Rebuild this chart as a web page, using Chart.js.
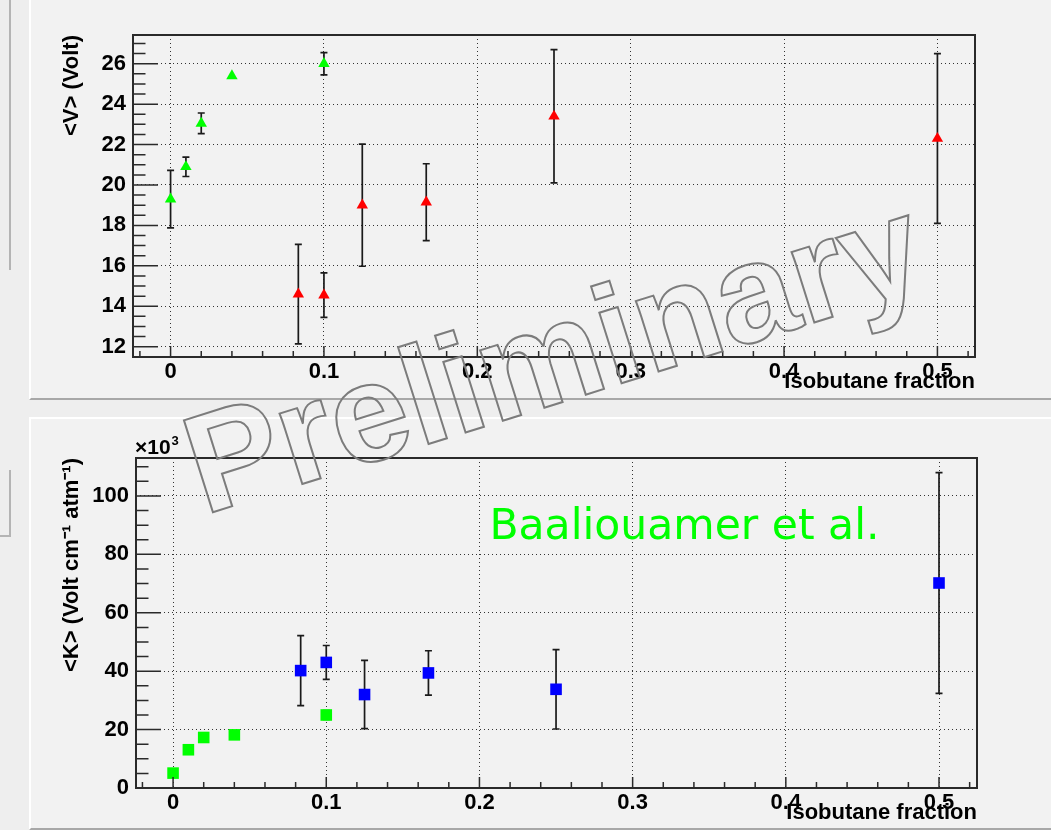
<!DOCTYPE html>
<html>
<head>
<meta charset="utf-8">
<script src="https://cdn.jsdelivr.net/npm/chart.js@4.4.1/dist/chart.umd.min.js"></script>
<style>
  body { margin: 0; width: 1051px; height: 830px; background: #eeeeee; position: relative; overflow: hidden; }
  .pad { position: absolute; left: 29px; width: 1022px; background: #f2f2f2; }
  #padTop { top: 0; height: 398px; border-left: 2px solid #fff; border-bottom: 2px solid #a8a8a8; }
  #padBot { top: 417px; height: 409px; border-left: 2px solid #fff; border-top: 2px solid #fff; border-bottom: 2px solid #a8a8a8; }
  .edge { position: absolute; background: #b4b4b4; }
  canvas { position: absolute; }
  #wm { left: 0; top: 0; pointer-events: none; }
</style>
</head>
<body>
<div class="edge" style="left:9px;top:0;width:2px;height:270px"></div>
<div class="edge" style="left:9px;top:470px;width:2px;height:67px"></div>
<div class="edge" style="left:0;top:535px;width:11px;height:2px"></div>
<div class="pad" id="padTop"></div>
<div class="pad" id="padBot"></div>
<canvas id="chartV" width="1020" height="400" style="left:31px;top:0"></canvas>
<canvas id="chartK" width="1020" height="412" style="left:31px;top:418px"></canvas>
<canvas id="wm" width="1051" height="830"></canvas>
<script>
// isobutane fraction tick labels
const xTicks = [0, 0.1, 0.2, 0.3, 0.4, 0.5];
const vTicks = [12, 14, 16, 18, 20, 22, 24, 26];
const kTicks = [0, 20, 40, 60, 80, 100];

// <V> (Volt)
const vGreenX = [0, 0.01, 0.02, 0.04, 0.1];
const vGreenY = [19.3, 20.9, 23.05, 25.4, 26.0];
const vGreenErr = [1.42, 0.48, 0.51, 0, 0.55];
const vRedX = [0.0833, 0.1, 0.125, 0.1667, 0.25, 0.5];
const vRedY = [14.6, 14.55, 19.0, 19.15, 23.4, 22.3];
const vRedErr = [2.46, 1.1, 3.02, 1.9, 3.3, 4.2];

// <K> (x10^3 Volt cm-1 atm-1)
const kGreenX = [0, 0.01, 0.02, 0.04, 0.1];
const kGreenY = [5.1, 13.1, 17.3, 18.2, 25.0];
const kGreenErr = [0, 0, 0, 0, 1.5];
const kBlueX = [0.0833, 0.1, 0.125, 0.1667, 0.25, 0.5];
const kBlueY = [40.2, 43.0, 32.0, 39.4, 33.8, 70.2];
const kBlueErr = [12, 5.8, 11.7, 7.6, 13.6, 37.8];

Chart.defaults.font.family = '"Liberation Sans", Arial, sans-serif';
Chart.defaults.color = '#000';

const pts = (xs, ys) => xs.map((x, i) => ({ x: x, y: ys[i] }));

// ROOT-like frame: error bars, box, ticks drawn inward
const rootPad = {
  id: 'rootPad',
  beforeDatasetsDraw(chart) {
    const ctx = chart.ctx, sx = chart.scales.x, sy = chart.scales.y;
    ctx.save();
    ctx.strokeStyle = '#1a1a1a';
    ctx.lineWidth = 1.7;
    chart.data.datasets.forEach(ds => {
      (ds.errors || []).forEach((e, i) => {
        if (!e) return;
        const p = ds.data[i];
        const px = sx.getPixelForValue(p.x);
        const y1 = sy.getPixelForValue(p.y - e), y2 = sy.getPixelForValue(p.y + e);
        ctx.beginPath();
        ctx.moveTo(px, y1); ctx.lineTo(px, y2);
        ctx.moveTo(px - 3.5, y1); ctx.lineTo(px + 3.5, y1);
        ctx.moveTo(px - 3.5, y2); ctx.lineTo(px + 3.5, y2);
        ctx.stroke();
      });
    });
    ctx.restore();
  },
  afterDraw(chart, args, o) {
    const ctx = chart.ctx, sx = chart.scales.x, sy = chart.scales.y;
    const { left, right, top, bottom } = chart.chartArea;
    ctx.save();
    ctx.strokeStyle = '#2a2a2a';
    ctx.lineWidth = 1.5;
    ctx.beginPath();
    for (let k = Math.ceil(sy.min / o.yMinor); k * o.yMinor <= sy.max; k++) {
      const v = k * o.yMinor;
      const major = o.yMajor.some(m => Math.abs(m - v) < 1e-9);
      const py = sy.getPixelForValue(v);
      ctx.moveTo(left, py); ctx.lineTo(left + (major ? 25 : 12.5), py);
    }
    for (let k = Math.ceil(sx.min / 0.02 - 1e-9); k * 0.02 <= sx.max + 1e-9; k++) {
      const v = k * 0.02;
      const major = k % 5 === 0;
      const px = sx.getPixelForValue(v);
      ctx.moveTo(px, bottom); ctx.lineTo(px, bottom - (major ? 11 : 6));
    }
    ctx.stroke();
    ctx.lineWidth = 2;
    ctx.strokeRect(left, top, right - left, bottom - top);
    if (o.exponent) {
      ctx.fillStyle = '#000';
      ctx.textBaseline = 'alphabetic';
      ctx.font = 'bold 21px "Liberation Sans"';
      ctx.fillText('\u00d710', left - 1, top - 4);
      const w = ctx.measureText('\u00d710').width;
      ctx.font = 'bold 13px "Liberation Sans"';
      ctx.fillText('3', left - 1 + w + 1, top - 13);
    }
    if (o.note) {
      ctx.fillStyle = '#00ff00';
      ctx.font = '42.5px "DejaVu Sans"';
      ctx.textBaseline = 'alphabetic';
      ctx.fillText(o.note.text, sx.getPixelForValue(o.note.x), sy.getPixelForValue(o.note.y));
    }
    ctx.restore();
  }
};

function axes(xmin, xmax, ymin, ymax, yList, yTitle, yWidth) {
  const tickFont = { size: 22, weight: 'bold' };
  return {
    x: {
      type: 'linear', min: xmin, max: xmax,
      afterBuildTicks: s => { s.ticks = xTicks.map(v => ({ value: v })); },
      afterFit: s => { s.height = 38; },
      ticks: { font: tickFont, padding: 2, maxRotation: 0, autoSkip: false, callback: v => String(v) },
      grid: { color: '#333', lineWidth: 1, drawTicks: false },
      border: { display: false, dash: [1, 3] },
      title: { display: true, text: 'Isobutane fraction', align: 'end', font: tickFont, padding: { top: 0, bottom: 0 } }
    },
    y: {
      type: 'linear', min: ymin, max: ymax,
      afterBuildTicks: s => { s.ticks = yList.map(v => ({ value: v })); },
      afterFit: s => { s.width = yWidth; },
      ticks: { font: tickFont, padding: 7, autoSkip: false, callback: v => String(v) },
      grid: { color: '#333', lineWidth: 1, drawTicks: false },
      border: { display: false, dash: [1, 3] },
      title: { display: true, text: yTitle, align: 'end', font: tickFont, padding: { top: 8, bottom: 0 } }
    }
  };
}

const common = {
  responsive: false,
  animation: false,
  devicePixelRatio: 1,
  plugins: { legend: { display: false }, tooltip: { enabled: false } }
};

new Chart(document.getElementById('chartV'), {
  type: 'scatter',
  data: {
    datasets: [
      { data: pts(vGreenX, vGreenY), errors: vGreenErr, pointStyle: 'triangle', pointRadius: 6.6,
        backgroundColor: '#00ff00', borderColor: '#00ff00', borderWidth: 0 },
      { data: pts(vRedX, vRedY), errors: vRedErr, pointStyle: 'triangle', pointRadius: 6.6,
        backgroundColor: '#ff0000', borderColor: '#ff0000', borderWidth: 0 }
    ]
  },
  options: Object.assign({}, common, {
    layout: { padding: { left: 20, right: 76, top: 35, bottom: 5 } },
    scales: axes(-0.0245, 0.5245, 11.49, 27.42, vTicks, '<V> (Volt)', 82),
    plugins: Object.assign({}, common.plugins, { rootPad: { yMajor: vTicks, yMinor: 0.5 } })
  }),
  plugins: [rootPad]
});

new Chart(document.getElementById('chartK'), {
  type: 'scatter',
  data: {
    datasets: [
      { data: pts(kGreenX, kGreenY), errors: kGreenErr, pointStyle: 'rect', pointRadius: 8.2,
        backgroundColor: '#00ff00', borderColor: '#00ff00', borderWidth: 0 },
      { data: pts(kBlueX, kBlueY), errors: kBlueErr, pointStyle: 'rect', pointRadius: 8.2,
        backgroundColor: '#0000ff', borderColor: '#0000ff', borderWidth: 0 }
    ]
  },
  options: Object.assign({}, common, {
    layout: { padding: { left: 20, right: 74, top: 40, bottom: 4 } },
    scales: axes(-0.0242, 0.5248, 0, 113, kTicks, '<K> (Volt cm\u207b\u00b9 atm\u207b\u00b9)', 85),
    plugins: Object.assign({}, common.plugins, {
      rootPad: { yMajor: kTicks, yMinor: 5, exponent: true,
                 note: { text: 'Baaliouamer et al.', x: 0.2065, y: 85.2 } }
    })
  }),
  plugins: [rootPad]
});

// "Preliminary" outline stamp across both pads
const wm = document.getElementById('wm').getContext('2d');
wm.translate(204, 515);
wm.rotate(-17.5 * Math.PI / 180);
wm.font = 'bold 140px "Liberation Sans"';
wm.strokeStyle = '#7c7c7c';
wm.lineWidth = 2;
wm.strokeText('Preliminary', 0, 0);
</script>
</body>
</html>
